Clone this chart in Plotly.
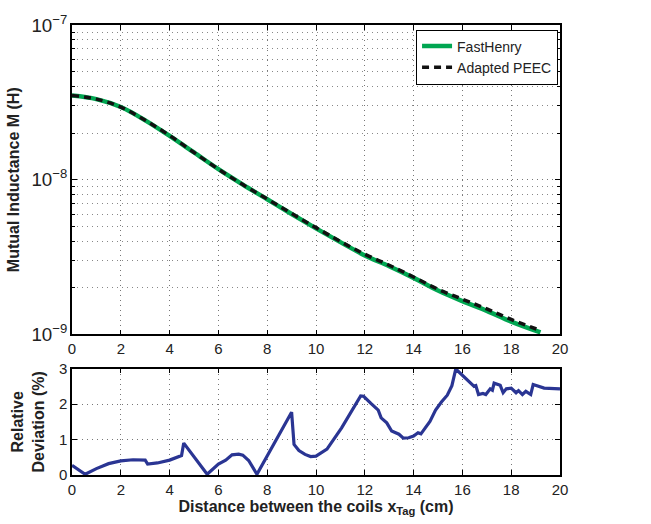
import plotly.graph_objects as go

# ---- data ----
x_top = [0, 1, 2, 3, 4, 5, 6, 7, 8, 9, 10, 11, 12, 13, 14, 15, 16, 17, 18, 19.2]
fasthenry = [3.50e-8, 3.32e-8, 2.95e-8, 2.42e-8, 1.92e-8, 1.50e-8, 1.17e-8, 9.3e-9, 7.48e-9,
             6.0e-9, 4.85e-9, 3.95e-9, 3.24e-9, 2.76e-9, 2.32e-9, 1.92e-9, 1.64e-9, 1.42e-9,
             1.21e-9, 1.03e-9]
peec = [3.50e-8, 3.32e-8, 2.95e-8, 2.42e-8, 1.93e-8, 1.50e-8, 1.17e-8, 9.3e-9, 7.5e-9,
        6.05e-9, 4.9e-9, 3.99e-9, 3.30e-9, 2.80e-9, 2.35e-9, 1.96e-9, 1.69e-9, 1.46e-9,
        1.25e-9, 1.06e-9]

x_dev = [0, 0.54, 1.0, 1.5, 2.0, 2.5, 3.0, 3.1, 3.5, 4.0, 4.49, 4.58, 5.54, 5.9, 6.0, 6.3,
         6.56, 6.83, 7.0, 7.24, 7.58, 9.0, 9.1, 9.3, 9.55, 9.78, 10.0, 10.45, 11.05, 11.83,
         11.95, 12.25, 12.55, 12.67, 12.9, 13.1, 13.4, 13.58, 13.8, 14.0, 14.18, 14.3, 14.67,
         14.9, 15.14, 15.38, 15.57, 15.73, 16.0, 16.3, 16.48, 16.55, 16.66, 16.84, 16.96, 17.14,
         17.23, 17.3, 17.55, 17.67, 17.8, 18.0, 18.2, 18.3, 18.46, 18.6, 18.8, 18.9, 19.35, 20.0]
deviation = [0.27, 0.02, 0.18, 0.32, 0.40, 0.43, 0.42, 0.31, 0.34, 0.42, 0.55, 0.90, 0.02, 0.27,
             0.31, 0.42, 0.57, 0.59, 0.56, 0.41, 0.02, 1.77, 0.86, 0.69, 0.58, 0.52, 0.53, 0.73,
             1.33, 2.23, 2.22, 2.02, 1.83, 1.61, 1.47, 1.24, 1.15, 1.04, 1.05, 1.10, 1.19, 1.16,
             1.51, 1.83, 2.06, 2.25, 2.52, 2.99, 2.82, 2.64, 2.50, 2.52, 2.27, 2.30, 2.27, 2.43,
             2.39, 2.59, 2.53, 2.32, 2.43, 2.45, 2.32, 2.38, 2.27, 2.36, 2.27, 2.55, 2.45, 2.43]

x_ticks = [0, 2, 4, 6, 8, 10, 12, 14, 16, 18, 20]

FONT = "Liberation Sans, Arial, Helvetica, sans-serif"

fig = go.Figure()
fig.add_trace(go.Scatter(x=x_top, y=fasthenry, mode="lines", name="FastHenry",
                         line=dict(color="#00a651", width=4.5, shape="spline"),
                         xaxis="x", yaxis="y"))
fig.add_trace(go.Scatter(x=x_top, y=peec, mode="lines", name="Adapted PEEC",
                         line=dict(color="#111111", width=3.5, dash="7px,5px", shape="spline"),
                         xaxis="x", yaxis="y"))
fig.add_trace(go.Scatter(x=x_dev, y=deviation, mode="lines", showlegend=False,
                         line=dict(color="#2a3593", width=3.2),
                         xaxis="x2", yaxis="y2"))

axis_common = dict(showline=True, linecolor="black", linewidth=1.5, mirror="ticks",
                   ticks="inside", ticklen=5, tickcolor="black",
                   showgrid=True, gridcolor="#777777", griddash="1px,4px", gridwidth=1,
                   zeroline=False, tickfont=dict(family=FONT, size=15, color="#222222"))

top_dom = [0.3124, 1.0]
bot_dom = [0.0, 0.2364]

fig.update_layout(
    width=651, height=524,
    margin=dict(l=69, r=91, t=14, b=49),
    plot_bgcolor="white", paper_bgcolor="white",
    font=dict(family=FONT, color="#222222"),
    xaxis=dict(**axis_common, domain=[0, 1], range=[0, 20], tickvals=x_ticks, anchor="y"),
    yaxis=dict(**axis_common, domain=top_dom, type="log", range=[-9, -7], dtick=1,
               exponentformat="power", showexponent="all",
               minor=dict(ticks="inside", ticklen=3, tickcolor="black", showgrid=True,
                          gridcolor="#888888", griddash="1px,4px", gridwidth=1),
               title=dict(text="<b>Mutual Inductance M (H)</b>",
                          font=dict(family=FONT, size=16, color="#222222"), standoff=8),
               anchor="x"),
    xaxis2=dict(**axis_common, domain=[0, 1], range=[0, 20], tickvals=x_ticks, anchor="y2",
                title=dict(text="<b>Distance between the coils x<sub>Tag</sub> (cm)</b>",
                           font=dict(family=FONT, size=16, color="#222222"), standoff=2)),
    yaxis2=dict(**axis_common, domain=bot_dom, range=[0, 3], dtick=1, anchor="x2",
                title=dict(text="<b>Relative<br>Deviation (%)</b>",
                           font=dict(family=FONT, size=16, color="#222222"), standoff=10)),
    legend=dict(x=0.996, y=0.99, xanchor="right", yanchor="top",
                bgcolor="white", bordercolor="black", borderwidth=1,
                font=dict(family=FONT, size=14, color="#222222"),
                tracegroupgap=0, itemwidth=30),
)

fig.write_html("out.html")
